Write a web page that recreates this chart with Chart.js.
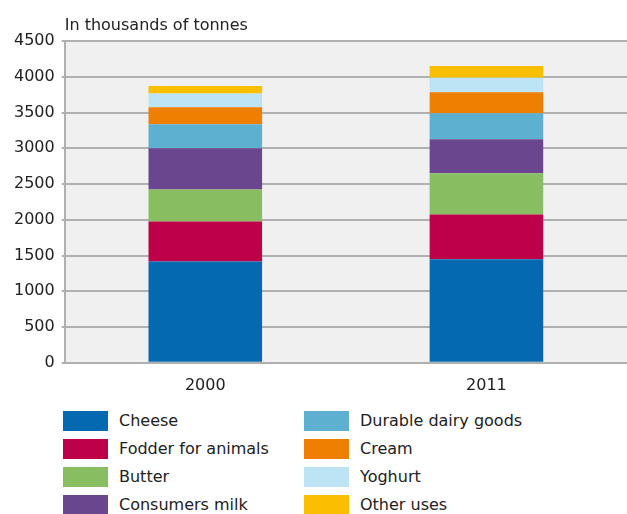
<!DOCTYPE html>
<html>
<head>
<meta charset="utf-8">
<script src="https://cdn.jsdelivr.net/npm/chart.js@4/dist/chart.umd.min.js"></script>
<style>
    body { margin: 0; background: #fff; font-family: "DejaVu Sans", sans-serif; }
    #wrap { position: relative; width: 627px; height: 514px; }
    #chart { position: absolute; left: 0; top: 0; }
    #legend { position: absolute; left: 63px; top: 411px; }
    .item { position: absolute; height: 20px; white-space: nowrap; font-size: 16px; color: #222; }
    .box { position: absolute; left: 0; top: 0; width: 45px; height: 20px; }
    .lbl { position: absolute; left: 56px; top: 0; line-height: 20px; }
</style>
</head>
<body>
<div id="wrap">
    <canvas id="chart" width="627" height="407"></canvas>
    <div id="legend"></div>
</div>
<script>
var years = ['2000', '2011'];
var seriesNames = ['Cheese', 'Fodder for animals', 'Butter', 'Consumers milk',
    'Durable dairy goods', 'Cream', 'Yoghurt', 'Other uses'];
var seriesColors = ['#0469b1', '#bd0047', '#88bd61', '#6a468f',
    '#5eb0d1', '#ee7f00', '#bde4f5', '#fbbe00'];

// thousands of tonnes per year
var cheese = [1416, 1448];
var fodder = [561, 627];
var butter = [448, 575];
var consumersMilk = [575, 476];
var durableGoods = [336, 365];
var cream = [239, 294];
var yoghurt = [192, 201];
var otherUses = [102, 164];

var seriesValues = [cheese, fodder, butter, consumersMilk, durableGoods, cream, yoghurt, otherUses];
var yTicks = [0, 500, 1000, 1500, 2000, 2500, 3000, 3500, 4000, 4500];

var datasets = [];
for (var i = 0; i < seriesNames.length; i++) {
    datasets.push({
        label: seriesNames[i],
        data: seriesValues[i],
        backgroundColor: seriesColors[i],
        borderWidth: 0,
        barPercentage: 0.404,
        categoryPercentage: 1
    });
}

var plotBackground = {
    id: 'plotBackground',
    beforeDraw: function (chart) {
        var a = chart.chartArea;
        var ctx = chart.ctx;
        ctx.save();
        ctx.fillStyle = '#eff0ef';
        ctx.fillRect(a.left, a.top, a.right - a.left, a.bottom - a.top);
        ctx.restore();
    }
};

var unitTitle = {
    id: 'unitTitle',
    afterDraw: function (chart) {
        var ctx = chart.ctx;
        ctx.save();
        ctx.fillStyle = '#222';
        ctx.font = '16px "DejaVu Sans"';
        ctx.textBaseline = 'alphabetic';
        ctx.fillText('In thousands of tonnes', chart.chartArea.left, 30);
        ctx.restore();
    }
};

var ctx = document.getElementById('chart').getContext('2d');
var myChart = new Chart(ctx, {
    type: 'bar',
    data: { labels: years, datasets: datasets },
    plugins: [plotBackground, unitTitle],
    options: {
        responsive: false,
        animation: false,
        devicePixelRatio: 1,
        layout: { padding: { top: 41, left: 7, right: 0, bottom: 7 } },
        plugins: {
            legend: { display: false },
            tooltip: { enabled: false }
        },
        scales: {
            x: {
                stacked: true,
                grid: { display: false },
                border: { display: false },
                ticks: { color: '#222', font: { family: 'DejaVu Sans', size: 16 }, padding: 5 }
            },
            y: {
                stacked: true,
                min: 0,
                max: 4500,
                afterBuildTicks: function (axis) {
                    axis.ticks = yTicks.map(function (v) { return { value: v }; });
                },
                grid: { color: '#b0b0b0', lineWidth: 2, tickLength: 3 },
                border: { display: true, color: '#b0b0b0', width: 2 },
                ticks: {
                    color: '#222',
                    font: { family: 'DejaVu Sans', size: 16 },
                    padding: 7,
                    callback: function (v) { return String(v); }
                }
            }
        }
    }
});

// two-column legend, first four entries in the left column
var legend = document.getElementById('legend');
myChart.data.datasets.forEach(function (ds, i) {
    var col = Math.floor(i / 4);
    var row = i % 4;
    var item = document.createElement('div');
    item.className = 'item';
    item.style.left = (col * 241) + 'px';
    item.style.top = (row * 28) + 'px';
    item.innerHTML = '<span class="box" style="background:' + ds.backgroundColor + '"></span>' +
        '<span class="lbl">' + ds.label + '</span>';
    legend.appendChild(item);
});
</script>
</body>
</html>
